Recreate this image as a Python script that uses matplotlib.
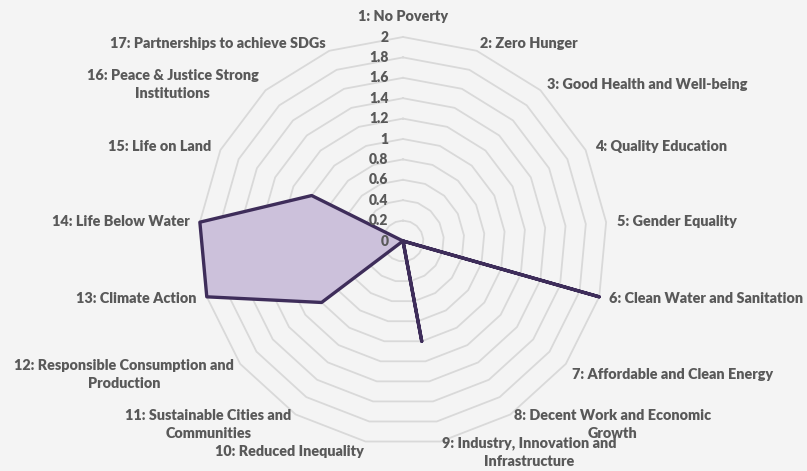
import numpy as np
import matplotlib
matplotlib.use("Agg")
import matplotlib.pyplot as plt

categories = [
    "1: No Poverty",
    "2: Zero Hunger",
    "3: Good Health and Well-being",
    "4: Quality Education",
    "5: Gender Equality",
    "6: Clean Water and Sanitation",
    "7: Affordable and Clean Energy",
    "8: Decent Work and Economic\nGrowth",
    "9: Industry, Innovation and\nInfrastructure",
    "10: Reduced Inequality",
    "11: Sustainable Cities and\nCommunities",
    "12: Responsible Consumption and\nProduction",
    "13: Climate Action",
    "14: Life Below Water",
    "15: Life on Land",
    "16: Peace & Justice Strong\nInstitutions",
    "17: Partnerships to achieve SDGs",
]
values = [0, 0, 0, 0, 0, 2, 0, 0, 1, 0, 0, 1, 2, 2, 1, 0, 0]
tick_values = [0, 0.2, 0.4, 0.6, 0.8, 1, 1.2, 1.4, 1.6, 1.8, 2]
tick_labels = ["0", "0.2", "0.4", "0.6", "0.8", "1", "1.2", "1.4", "1.6", "1.8", "2"]

BG = "#F4F4F4"
GRID = "#D9D9D9"
TXT = "#595959"
LINE = "#3E2D5A"
FILL = "#CCC1DB"
FONT = ["Lato", "DejaVu Sans"]
FS = 10.4
FW = "heavy"

W, H, DPI = 807, 471, 100
fig = plt.figure(figsize=(W / DPI, H / DPI), dpi=DPI, facecolor=BG)
ax = fig.add_axes([0, 0, 1, 1])
ax.set_facecolor(BG)
ax.set_axis_off()

cx, cy, ppu = 403, 241, 102.0
ax.set_xlim(-cx / ppu, (W - cx) / ppu)
ax.set_ylim(-(H - cy) / ppu, cy / ppu)

n = len(categories)
theta = 2 * np.pi * np.arange(n) / n
s, c = np.sin(theta), np.cos(theta)

# polygon gridlines
for r in tick_values[1:]:
    ax.plot(np.append(r * s, r * s[0]), np.append(r * c, r * c[0]),
            color=GRID, lw=1.3, zorder=1, solid_joinstyle="miter")

# data
v = np.array(values, dtype=float)
xs, ys = v * s, v * c
ax.fill(xs, ys, color=FILL, zorder=2, lw=0)
ax.plot(np.append(xs, xs[0]), np.append(ys, ys[0]), color=LINE, lw=2.4, zorder=3,
        solid_joinstyle="round")

# radial tick labels
for t, lab in zip(tick_values, tick_labels):
    ax.annotate(lab, (0, t), xytext=(-10.5, 0), textcoords="offset points",
                ha="right", va="center", fontsize=FS - 0.4, fontweight=FW,
                color=TXT, family=FONT, zorder=4)

# category labels
rmax = tick_values[-1]
for i, lab in enumerate(categories):
    sx, cy_ = s[i], c[i]
    if abs(sx) < 0.05:
        ha = "center"
    elif sx > 0:
        ha = "left"
    else:
        ha = "right"
    if i == 0:
        off = (0, 10)
        va = "bottom"
    else:
        off = (7.5 * sx, 5.5 * cy_)
        va = "center"
        if cy_ < -0.5:
            off = (5.5 * sx, -7.5)
    ax.annotate(lab, (rmax * sx, rmax * cy_), xytext=off, textcoords="offset points",
                ha=ha, va=va, multialignment="center", linespacing=1.45,
                fontsize=FS, fontweight=FW, color=TXT, family=FONT,
                annotation_clip=False)

fig.savefig("out.png", dpi=DPI, facecolor=BG)
